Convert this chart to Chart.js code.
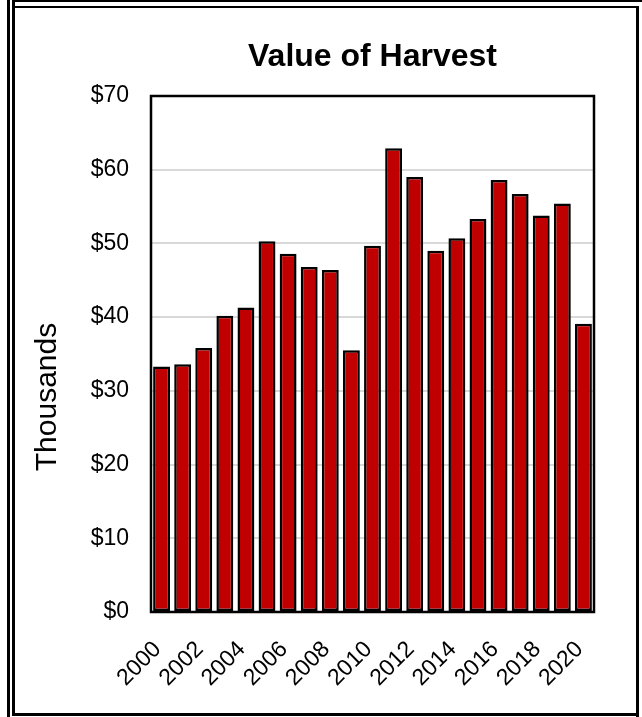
<!DOCTYPE html>
<html>
<head>
<meta charset="utf-8">
<script src="https://cdn.jsdelivr.net/npm/chart.js@4/dist/chart.umd.min.js"></script>
<style>
  html, body { margin: 0; padding: 0; background: #fff; }
  #wrap { position: relative; width: 642px; height: 717px; overflow: hidden; background: #fff; }
  #c { position: absolute; left: 0; top: 0; }
  .ln { position: absolute; background: #000; }
</style>
</head>
<body>
<div id="wrap">
  <canvas id="c" width="642" height="717"></canvas>
  <div class="ln" style="left:7px;top:0;width:3px;height:717px;"></div>
  <div class="ln" style="left:12px;top:0;width:3px;height:716px;"></div>
  <div class="ln" style="left:12px;top:0;width:630px;height:2px;"></div>
  <div class="ln" style="left:14px;top:6px;width:625px;height:2px;"></div>
  <div class="ln" style="left:636px;top:6px;width:3px;height:711px;"></div>
  <div class="ln" style="left:12px;top:713px;width:627px;height:3px;"></div>
</div>
<script>
const years = ['2000','2001','2002','2003','2004','2005','2006','2007','2008','2009','2010',
               '2011','2012','2013','2014','2015','2016','2017','2018','2019','2020'];
const harvestValue = [33.3, 33.6, 35.8, 40.2, 41.3, 50.3, 48.6, 46.8, 46.4, 35.5, 49.7,
                      62.9, 59.0, 49.0, 50.7, 53.3, 58.6, 56.7, 53.8, 55.4, 39.1];
const xTickLabels = ['2000','2002','2004','2006','2008','2010','2012','2014','2016','2018','2020'];
const yTickValues = [0, 10, 20, 30, 40, 50, 60, 70];
const yAxisTitle = 'Thousands';

const FONT = '"Liberation Sans", Arial, sans-serif';

const plotBorder = {
  id: 'plotBorder',
  afterDatasetsDraw(chart) {
    const a = chart.chartArea, ctx = chart.ctx;
    ctx.save();
    ctx.strokeStyle = '#000';
    ctx.lineWidth = 2.5;
    ctx.strokeRect(a.left, a.top, a.right - a.left, a.bottom - a.top);
    ctx.restore();
  }
};

const yTitle = {
  id: 'yTitle',
  afterDraw(chart) {
    const ctx = chart.ctx, a = chart.chartArea;
    ctx.save();
    ctx.translate(48, a.bottom - 215);
    ctx.rotate(-Math.PI / 2);
    ctx.fillStyle = '#000';
    ctx.font = '30px ' + FONT;
    ctx.textAlign = 'center';
    ctx.textBaseline = 'middle';
    ctx.fillText(yAxisTitle, 0, 0);
    ctx.restore();
  }
};

new Chart(document.getElementById('c'), {
  type: 'bar',
  data: {
    labels: years,
    datasets: [{
      label: 'Value of Harvest',
      data: harvestValue,
      backgroundColor: '#C00000',
      borderColor: '#000000',
      borderWidth: 2.5,
      borderSkipped: false,
      barPercentage: 0.8,
      categoryPercentage: 1.0
    }]
  },
  options: {
    responsive: false,
    devicePixelRatio: 1,
    animation: false,
    layout: { padding: { left: 14, right: 48, top: 38, bottom: 0 } },
    plugins: {
      legend: { display: false },
      tooltip: { enabled: false },
      title: {
        display: true,
        text: 'Value of Harvest',
        fullSize: false,
        color: '#000',
        font: { family: FONT, size: 32, weight: 'bold', lineHeight: 1.2 },
        padding: { top: 0, bottom: 19.6 }
      }
    },
    scales: {
      x: {
        grid: { display: false, drawTicks: false },
        border: { display: false },
        ticks: {
          autoSkip: false,
          minRotation: 45,
          maxRotation: 45,
          padding: 24,
          labelOffset: -4,
          color: '#000',
          font: { family: FONT, size: 23 },
          callback: function(v, i) {
            const lab = this.getLabelForValue(v);
            return xTickLabels.includes(lab) ? lab : '';
          }
        },
        afterFit(scale) { scale.height = 105; }
      },
      y: {
        min: 0,
        max: 70,
        grid: { color: '#d9d9d9', lineWidth: 2, drawTicks: false },
        border: { display: false },
        afterBuildTicks(scale) { scale.ticks = yTickValues.map(v => ({ value: v })); },
        ticks: {
          padding: 22,
          color: '#000',
          font: { family: FONT, size: 23 },
          callback: v => '$' + v
        },
        title: { display: false },
        afterFit(scale) { scale.width = 137; }
      }
    }
  },
  plugins: [plotBorder, yTitle]
});
</script>
</body>
</html>
